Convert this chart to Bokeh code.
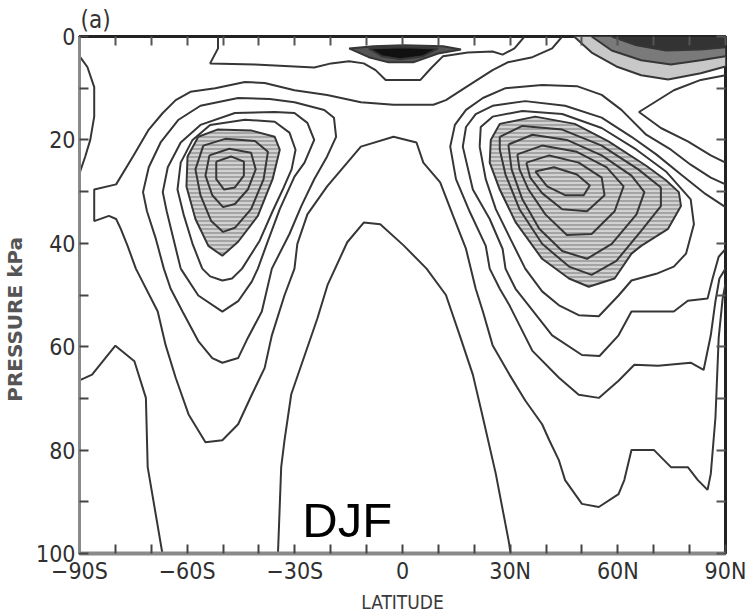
from bokeh.plotting import figure
from bokeh.models import Range1d, FixedTicker, LinearAxis, Label
from bokeh.embed import file_html
from bokeh.resources import INLINE

# ---- axis ticks / labels ----
lat_ticks = [-90, -60, -30, 0, 30, 60, 90]
lat_labels = ["\u221290S", "\u221260S", "\u221230S", "0", "30N", "60N", "90N"]
lat_minor = [-80, -70, -50, -40, -20, -10, 10, 20, 40, 50, 70, 80]
p_ticks = [0, 20, 40, 60, 80, 100]
p_minor = [10, 30, 50, 70, 90]

# ---- contour lines (latitude, pressure kPa) ----
L0_lat = [-34.7, -33.8, -32.9, -31.0, -23.7, -20.9, -15.4, -10.8, -6.2, 0.3, 6.7, 12.1, 15.9, 19.6, 22.4, 26.0, 29.7, 30.1]
L0_p = [100, 83.3, 78.2, 69.2, 54.5, 48.1, 39.8, 36.0, 36.3, 40.4, 44.9, 50.0, 57.7, 65.4, 73.7, 84.6, 98.0, 100]

A_lat = [-90, -86.5, -80, -74.7, -71.5, -71.0, -66.9]
A_p = [66.5, 65.4, 59.8, 62.8, 69.9, 83.3, 100]

U1_lat = [44.5, 41.7, 36.2, 29.3, 25.1, 17.7, 12.1, 8.6, -2.5, -11.6, -21.0, -30.1, -38.4, -43.9, -52.2,
          -59.1, -63.2, -66.8, -70.7, -75.1, -79.8, -85.9, -85.9, -81.8, -79.8, -78.5, -76.6, -74.3, -68.2,
          -66.0, -63.2, -59.6, -54.9, -50.2, -45.8, -42.0, -38.4, -36.4, -32.9, -30.1, -29.3, -26.5, -21.0,
          -11.6, -2.5, 3.9, 5.8, 10.5, 14.1, 17.7, 20.4, 22.4, 25.1, 29.8, 34.2, 38.9, 40.9, 43.6, 45.3,
          50.0, 54.7, 60.2, 61.8, 63.8, 70.1, 74.8, 79.5, 82.3, 85.0, 85.9, 87.2, 88.1, 89.2, 90]
U1_p = [0, 2.3, 4.0, 5.0, 6.5, 9.8, 12.3, 13.2, 13.2, 12.7, 11.3, 10.4, 9.0, 8.8, 10.0,
        10.7, 12.3, 14.8, 18.0, 23.2, 28.6, 29.6, 35.7, 34.7, 35.3, 37.2, 40.5, 44.9, 53.2,
        59.7, 66.0, 73.1, 78.5, 78.1, 75.0, 69.3, 64.1, 57.8, 50.1, 44.9, 40.1, 34.4, 29.0,
        21.3, 19.4, 20.5, 24.4, 28.2, 34.7, 41.1, 48.8, 53.2, 59.7, 65.4, 70.4, 75.0, 78.1, 82.0, 85.8,
        90.4, 91.0, 88.5, 85.8, 80.0, 80.0, 83.3, 83.3, 85.8, 87.7, 84.6, 73.7, 58.3, 50.7, 47.8]

U2_lat = [-66.5, -68.7, -71.2, -72.3, -70.7, -67.4, -62.4, -56.3, -45.8, -37.0, -30.1, -21.8, -19.1, -18.5,
          -21.0, -24.6, -28.2, -31.5, -36.4, -39.2, -43.1, -45.8, -50.2, -53.0, -56.9, -61.3, -64.6]
U2_p = [44.9, 39.2, 33.8, 30.1, 25.3, 20.5, 16.1, 13.4, 11.9, 12.1, 12.7, 14.2, 15.7, 19.4,
        23.2, 27.6, 32.8, 38.2, 44.9, 53.2, 58.3, 62.2, 63.1, 62.2, 58.9, 53.2, 48.8]

U3_lat = [-61.8, -63.8, -65.7, -66.8, -65.4, -61.8, -56.3, -46.7, -35.6, -30.1, -26.5, -24.6, -27.3, -30.1,
          -34.2, -37.8, -40.3, -42.0, -45.8, -50.2, -56.9]
U3_p = [44.9, 39.2, 33.8, 30.1, 25.3, 20.5, 17.1, 14.8, 14.6, 14.8, 16.7, 20.0, 24.4, 27.1,
        33.4, 40.1, 44.9, 47.4, 51.2, 53.2, 50.1]

U4_lat = [-55.8, -58.5, -61.0, -62.7, -61.8, -58.5, -53.6, -43.9, -35.6, -31.5, -29.8, -30.9, -33.1, -36.2,
          -39.8, -44.7, -47.5, -50.2, -53.6]
U4_p = [44.9, 40.1, 34.4, 29.6, 24.4, 20.0, 17.1, 16.1, 16.5, 18.6, 21.9, 25.7, 29.2, 33.8,
        39.5, 44.9, 46.8, 47.2, 46.4]

S5_lat = [-56.9, -51.6, -42.0, -35.6, -34.2, -36.2, -40.3, -45.8, -50.2, -54.1, -57.7, -60.2, -59.9]
S5_p = [19.4, 18.0, 18.2, 19.4, 21.9, 27.6, 34.7, 39.7, 42.4, 40.5, 35.3, 29.0, 23.2]

S6_lat = [-55.5, -49.4, -41.1, -37.5, -38.7, -42.2, -46.7, -50.0, -53.3, -56.3, -57.7]
S6_p = [21.1, 19.8, 20.2, 22.3, 27.6, 33.4, 37.0, 37.8, 35.7, 30.7, 25.7]

S7_lat = [-53.8, -48.3, -42.2, -40.9, -43.1, -46.7, -50.0, -53.0, -54.9]
S7_p = [23.0, 21.7, 22.5, 25.7, 29.6, 32.4, 33.0, 30.7, 26.9]

S8_lat = [-51.9, -47.8, -44.2, -44.2, -46.7, -49.7, -51.9]
S8_p = [24.2, 23.2, 24.2, 26.9, 29.2, 29.6, 27.6]

ARC_lat = [-90, -87.8, -85.9, -85.9, -87.0, -88.4, -90]
ARC_p = [3.8, 5.9, 9.8, 15.5, 20.0, 23.2, 26.5]

T1_lat = [-51.4, -51.4, -53.6, -41.1, -30.1, -24.6, -19.9, -14.9, -10.8, -7.5, -4.7, 5.0, 8.0, 11.3,
          18.2, 25.1, 27.9, 31.2, 34.0]
T1_p = [0, 2.3, 5.2, 5.4, 5.8, 6.0, 5.2, 4.8, 5.2, 6.5, 8.4, 8.4, 6.1, 3.8,
        3.1, 2.9, 3.5, 2.3, 0]

B1_lat = [-14.9, -8.0, 0.3, 11.3, 16.3, 9.9, 3.0, -3.9, -9.4]
B1_p = [2.3, 1.9, 1.7, 1.9, 2.5, 3.3, 5.0, 5.0, 4.0]
B2_lat = [-9.4, 0.3, 9.9, 5.8, -0.6, -5.8]
B2_p = [2.3, 2.1, 2.3, 3.8, 4.4, 3.8]

F1_lat = [47.8, 52.7, 59.6, 66.5, 74.0, 83.1, 90]
F1_p = [0, 3.1, 5.8, 7.5, 8.3, 7.1, 5.8]
F2_lat = [52.7, 58.3, 66.5, 74.8, 83.1, 90]
F2_p = [0, 2.7, 4.6, 5.4, 4.6, 3.8]
F3_lat = [58.3, 65.2, 73.5, 83.1, 90]
F3_p = [0, 1.7, 2.7, 2.5, 2.1]
LT_lat = [90, 83.1, 75.6, 65.9, 72.0, 79.5, 85.9, 90]
LT_p = [7.5, 8.4, 10.4, 14.6, 17.7, 20.3, 23.0, 24.4]

N2_lat = [90, 85.9, 80.3, 74.8, 67.9, 61.0, 55.5, 48.6, 38.9, 28.7, 22.4, 17.7, 14.6, 13.3, 14.9, 18.8,
          23.2, 24.3, 27.1, 29.8, 36.2, 43.6, 49.1, 54.7, 60.2, 64.6, 71.2, 80.3, 83.9, 85.9, 87.2, 88.3, 90]
N2_p = [28.6, 27.3, 24.8, 21.9, 19.0, 14.2, 11.3, 9.6, 9.4, 10.0, 11.9, 14.2, 17.1, 21.3, 27.6, 34.0,
        40.5, 44.9, 48.8, 52.0, 60.8, 66.0, 69.3, 69.9, 66.6, 63.5, 63.7, 63.1, 64.5, 57.8, 51.2, 46.8, 44.9]

N3_lat = [90, 84.5, 77.6, 70.7, 63.8, 55.5, 45.3, 34.2, 25.1, 20.4, 17.7, 16.8, 19.6, 24.3, 27.9,
          28.7, 31.5, 34.2, 41.7, 50.0, 54.9, 60.2, 63.8, 75.6, 79.5, 85.0, 86.4, 88.1, 90]
N3_p = [33.0, 30.5, 26.7, 22.8, 19.4, 15.7, 13.4, 12.5, 13.4, 15.0, 17.5, 21.3, 29.6, 35.3, 41.1,
        44.9, 48.8, 51.2, 57.8, 61.6, 61.8, 57.8, 53.2, 53.2, 51.1, 50.7, 46.8, 42.6, 41.1]

N4_lat = [21.5, 21.8, 25.1, 33.4, 44.5, 55.5, 65.2, 73.4, 80.3, 81.2, 79.0, 75.6, 70.7, 63.8, 60.2,
          54.7, 49.1, 43.6, 38.9, 34.2, 30.1, 26.0, 23.2]
N4_p = [21.3, 17.5, 15.5, 14.4, 15.0, 17.7, 21.9, 26.1, 31.5, 36.3, 42.0, 44.5, 45.9, 47.2, 50.1,
        54.1, 53.9, 52.0, 49.3, 44.9, 39.2, 33.4, 27.6]

N5_lat = [24.6, 27.1, 37.0, 48.0, 57.4, 67.9, 73.4, 77.0, 77.6, 74.0, 66.5, 63.8, 59.1, 51.9, 46.4,
          38.9, 31.5, 27.1, 24.3]
N5_p = [20.0, 16.9, 15.5, 16.9, 20.3, 25.0, 27.8, 30.1, 32.8, 37.2, 40.5, 42.0, 46.8, 48.4, 46.8,
        43.0, 35.9, 29.6, 24.4]

N6_lat = [27.1, 33.4, 44.5, 55.5, 65.7, 72.0, 72.0, 66.5, 59.6, 52.7, 46.4, 38.9, 32.6, 28.7, 27.1]
N6_p = [19.4, 17.3, 18.0, 21.1, 25.7, 29.2, 32.8, 37.6, 43.4, 46.1, 44.5, 40.1, 33.4, 26.7, 21.9]

N7_lat = [29.5, 36.2, 45.8, 55.5, 63.8, 67.4, 65.2, 58.3, 51.4, 44.5, 38.1, 33.4, 30.4]
N7_p = [20.9, 19.0, 20.0, 23.0, 26.9, 30.1, 34.4, 40.1, 43.0, 41.5, 37.2, 31.5, 25.7]

N8_lat = [32.0, 38.9, 48.6, 56.9, 61.6, 59.1, 52.7, 45.8, 39.8, 35.1, 32.6]
N8_p = [22.8, 21.1, 22.3, 25.3, 29.0, 33.8, 38.2, 38.4, 34.4, 29.6, 25.7]

N9_lat = [34.5, 40.9, 49.1, 55.5, 56.3, 51.4, 44.5, 38.9, 35.6]
N9_p = [24.4, 23.0, 24.4, 27.3, 30.7, 33.8, 33.4, 30.3, 27.3]

N10_lat = [37.0, 42.2, 48.6, 52.2, 50.5, 45.3, 40.3]
N10_p = [26.1, 25.3, 26.7, 28.8, 30.7, 30.7, 29.0]

open_lines = [(L0_lat, L0_p), (A_lat, A_p), (U1_lat, U1_p), (ARC_lat, ARC_p), (T1_lat, T1_p),
              (F1_lat, F1_p), (F2_lat, F2_p), (F3_lat, F3_p), (LT_lat, LT_p),
              (N2_lat, N2_p), (N3_lat, N3_p)]
closed_lines = [(U2_lat, U2_p), (U3_lat, U3_p), (U4_lat, U4_p), (S5_lat, S5_p), (S6_lat, S6_p),
                (S7_lat, S7_p), (S8_lat, S8_p), (N4_lat, N4_p), (N5_lat, N5_p), (N6_lat, N6_p),
                (N7_lat, N7_p), (N8_lat, N8_p), (N9_lat, N9_p), (N10_lat, N10_p),
                (B1_lat, B1_p), (B2_lat, B2_p)]

COND = "'DejaVu Sans Condensed', 'Liberation Sans Narrow', 'DejaVu Sans', sans-serif"
LINE = "#363636"

p = figure(width=749, height=615, output_backend="svg", toolbar_location=None,
           x_range=Range1d(-90, 90), y_range=Range1d(100, 0),
           min_border_left=73, min_border_right=24, min_border_top=36, min_border_bottom=58)
p.xgrid.visible = False
p.ygrid.visible = False
p.outline_line_color = "#222222"
p.outline_line_width = 3
p.background_fill_color = "white"
p.border_fill_color = "white"

# title "(a)"
p.title.text = "(a)"
p.title.align = "left"
p.title.offset = 1
p.title.standoff = 6
p.title.text_font = COND
p.title.text_font_size = "24px"
p.title.text_font_style = "normal"
p.title.text_color = "#333333"

# shaded (hatched) regions of the two maxima
for lat, pr in [(S5_lat, S5_p), (N5_lat, N5_p)]:
    p.patch(lat, pr, fill_color="#a4a4a4", line_color=None,
            hatch_pattern="horizontal_line", hatch_color="#ececec", hatch_alpha=0.85,
            hatch_scale=4, hatch_weight=1.5)

# dark patches near the top
p.patch(B1_lat, B1_p, fill_color="#555555", line_color=None)
p.patch(B2_lat, B2_p, fill_color="#111111", line_color=None)
p.patch(F3_lat + [F3_lat[-1]], F3_p + [F3_p[0]], fill_color="#333333", line_color=None)
p.patch(F2_lat + F3_lat[::-1], F2_p + F3_p[::-1], fill_color="#7a7a7a", line_color=None)
p.patch(F1_lat + F2_lat[::-1], F1_p + F2_p[::-1], fill_color="#c8c8c8", line_color=None)

xs = [list(a) for a, b in open_lines] + [list(a) + [a[0]] for a, b in closed_lines]
ys = [list(b) for a, b in open_lines] + [list(b) + [b[0]] for a, b in closed_lines]
p.multi_line(xs, ys, line_color=LINE, line_width=2)

# axes
p.xaxis.ticker = FixedTicker(ticks=lat_ticks, minor_ticks=lat_minor)
p.xaxis.major_label_overrides = {t: l for t, l in zip(lat_ticks, lat_labels)}
p.yaxis.ticker = FixedTicker(ticks=p_ticks, minor_ticks=p_minor)
for ax in (p.xaxis[0], p.yaxis[0]):
    ax.major_tick_in = 9
    ax.major_tick_out = 0
    ax.minor_tick_in = 9
    ax.minor_tick_out = 0
    ax.major_tick_line_color = "#444444"
    ax.minor_tick_line_color = "#444444"
    ax.major_tick_line_width = 2
    ax.minor_tick_line_width = 2
    ax.axis_line_color = "#8a8a8a"
    ax.axis_line_width = 3
    ax.major_label_text_font = COND
    ax.major_label_text_font_size = "23px"
    ax.major_label_text_color = "#303030"
    ax.major_label_standoff = 4
    ax.axis_label_text_color = "#3a3a3a"
    ax.axis_label_text_font_style = "normal"
p.xaxis.axis_line_width = 4
p.xaxis.axis_label = "LATITUDE"
p.xaxis.axis_label_text_font = COND
p.xaxis.axis_label_text_font_size = "19px"
p.xaxis.axis_label_standoff = 4
p.yaxis.axis_label = "PRESSURE kPa" + "\u00a0" * 7
p.yaxis.axis_label_text_font = "DejaVu Sans"
p.yaxis.axis_label_text_font_style = "bold"
p.yaxis.axis_label_text_font_size = "20px"
p.yaxis.axis_label_text_color = "#555555"
p.yaxis.axis_label_standoff = 6

for loc, tks, mnr in (("above", lat_ticks, lat_minor), ("right", p_ticks, p_minor)):
    ax = LinearAxis(ticker=FixedTicker(ticks=tks, minor_ticks=mnr),
                    major_label_text_font_size="1px", major_label_text_color=None,
                    major_tick_in=9, major_tick_out=0, minor_tick_in=9, minor_tick_out=0,
                    axis_line_color=None,
                    major_tick_line_color="#555555", minor_tick_line_color="#555555",
                    major_tick_line_width=2, minor_tick_line_width=2, major_label_standoff=0)
    p.add_layout(ax, loc)

# season label inside the plot
p.add_layout(Label(x=-27.9, y=93.5, text="DJF", text_font="Liberation Sans",
                   text_font_size="49px", text_color="black", text_baseline="alphabetic"))

open("out.html", "w").write(file_html(p, INLINE))
